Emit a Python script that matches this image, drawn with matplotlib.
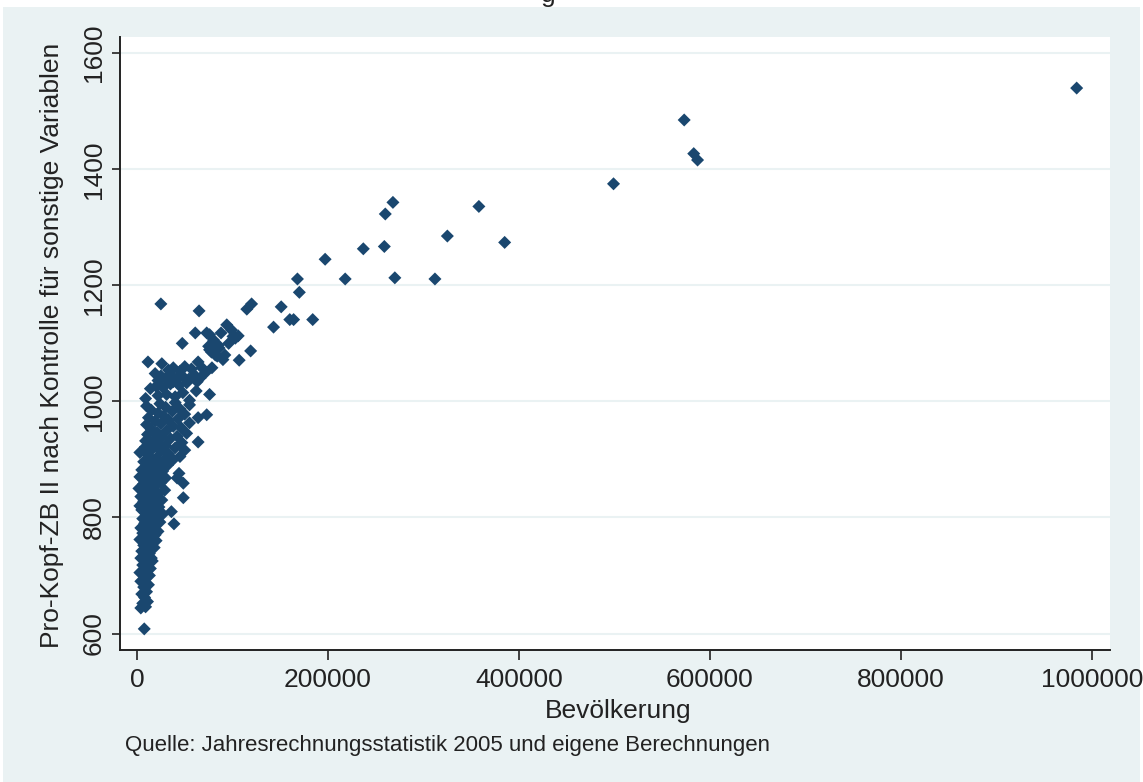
import matplotlib.pyplot as plt
from matplotlib.patches import Rectangle

# Bevölkerung (Einwohner) und Pro-Kopf-ZB II
pop = [
    7600, 4000, 9000, 6000, 11000, 8000, 5000, 10000, 7000, 12000, 4000, 9000, 13000,
    3000, 8000, 14000, 6000, 11000, 16000, 4000, 9000, 13000, 15000, 8000, 12000,
    5000, 10000, 18000, 7000, 14000, 20000, 3000, 11000, 16000, 6000, 22000, 9000,
    19000, 12000, 17000, 6000,
    4000, 13000, 19000, 8000, 24000, 38700, 15000, 6000, 21000, 11000, 27000, 17000,
    36000, 5000, 9000, 23000, 14000, 19000, 7000, 26000, 10000, 16000, 3000, 12000,
    12000, 48500, 4000, 17000, 22000, 9000, 29000, 14000, 6000, 20000, 25000, 48500,
    11000, 16000, 30000, 3000, 8000, 21000, 13000, 27000, 42000, 44000, 18000, 23000,
    7000, 15000, 24000, 2000,
    5000, 10000, 18000, 24000, 32000, 14000, 7000, 28000, 38000, 20000, 45000, 12000,
    33000, 3000, 25000, 50000, 16000, 40000, 9000, 30000, 22000, 47000, 13000,
    9000, 18000, 35000, 26000, 42000, 11000, 52000, 64000, 21000, 31000, 15000, 46000,
    38000, 10000, 25000, 55000, 19000, 33000, 43000, 12000, 64000, 28000, 73000, 50000,
    22000, 37000, 15000, 45000, 30000, 10000, 55000, 24000, 40000,
    14000, 20000, 27000, 31000, 40000, 48000, 55000, 62000, 76000, 35000, 44000, 9000,
    22000,
    11500, 26000, 38000, 50000, 64000, 78500, 19000, 25000, 30000, 36000, 42000, 48000,
    54000, 60000, 66000, 72000, 33000, 45000, 57000, 68000, 22000, 38000, 52000, 63000,
    94000, 99000, 103000, 61000, 73000, 47400, 80000, 76000, 92000, 85000, 82000,
    100500, 107000, 119000, 25000, 65000, 88000, 96000, 75000, 78000, 84000, 90000,
    86000, 76000, 106000,
    115000, 120000, 151000, 143000, 160000, 164000, 184000, 168000, 170000, 197000,
    218000, 237000, 259000, 260000, 268000, 270000, 312000, 325000, 358000, 385000,
    499000, 573000, 583000, 587000, 984000,
]
zb = [
    608, 644, 646, 652, 655, 662, 668, 672, 680, 684, 690, 695, 700,
    705, 708, 712, 718, 722, 725, 730, 733, 738, 730, 740, 750,
    742, 745, 748, 752, 755, 760, 762, 765, 770, 773, 776, 778,
    770, 790, 800, 760,
    782, 784, 786, 790, 792, 789, 795, 798, 800, 803, 806, 810,
    810, 813, 816, 818, 822, 826, 828, 830, 790, 800, 820, 812,
    833, 834, 836, 838, 842, 845, 847, 850, 853, 856, 860, 859,
    862, 865, 868, 870, 872, 875, 878, 880, 868, 876, 848, 868,
    858, 840, 885, 850,
    882, 884, 886, 888, 890, 893, 896, 898, 900, 902, 905, 907,
    910, 912, 914, 916, 918, 920, 922, 924, 927, 929, 930,
    932, 934, 936, 938, 940, 943, 945, 930, 947, 950, 952, 955,
    957, 960, 962, 963, 966, 968, 970, 972, 972, 975, 977, 978,
    980, 983, 985, 987, 990, 992, 994, 996, 998,
    1022, 1026, 1024, 1012, 1008, 1015, 1002, 1018, 1012, 1030, 1028, 1005,
    1010,
    1068, 1065, 1058, 1060, 1068, 1058, 1048, 1044, 1040, 1045, 1040, 1043,
    1038, 1046, 1040, 1050, 1054, 1052, 1056, 1058, 1036, 1034, 1032, 1034,
    1132, 1123, 1109, 1118, 1118, 1100, 1106, 1089, 1080, 1097, 1080,
    1112, 1071, 1087, 1168, 1156, 1118, 1100, 1095, 1085, 1078, 1072,
    1092, 1115, 1113,
    1159, 1168, 1163, 1128, 1141, 1141, 1141, 1211, 1188, 1245,
    1211, 1263, 1267, 1323, 1343, 1213, 1211, 1285, 1336, 1274,
    1375, 1485, 1427, 1416, 1540,
]

xticks = [0, 200000, 400000, 600000, 800000, 1000000]
yticks = [600, 800, 1000, 1200, 1400, 1600]

plt.rcParams['font.family'] = ['Liberation Sans', 'DejaVu Sans']

W, H = 1143, 782
fig = plt.figure(figsize=(W / 100, H / 100), dpi=100)
fig.patch.set_facecolor('white')
fig.patches.append(Rectangle((3 / W, 0), 1137 / W, 1 - 7 / H, transform=fig.transFigure,
                             facecolor='#EAF2F3', edgecolor='none', zorder=-10))

ax = fig.add_axes([120 / W, 1 - 650 / H, 990 / W, 613 / H])
ax.set_facecolor('white')
ax.scatter(pop, zb, marker='D', s=44, color='#1A476F', edgecolors='none', zorder=3)

ax.set_xlim(-17800, 1018900)
ax.set_ylim(571.6, 1628)
ax.set_xticks(xticks)
ax.set_xticklabels([str(v) for v in xticks])
ax.set_yticks(yticks)
ax.set_yticklabels([str(v) for v in yticks], rotation=90, va='center')

for v in yticks:
    ax.axhline(v, color='#EAF2F3', lw=1.5, zorder=1)

for s in ['top', 'right']:
    ax.spines[s].set_visible(False)
for s in ['left', 'bottom']:
    ax.spines[s].set_color('#222222')
    ax.spines[s].set_linewidth(1.4)

ax.tick_params(axis='x', length=7, width=1.2, pad=6, labelsize=19, colors='#222222')
ax.tick_params(axis='y', length=6, width=1.2, pad=4, labelsize=19, colors='#222222')

fig.text(52 / W, 1 - 345 / H, 'Pro-Kopf-ZB II nach Kontrolle für sonstige Variablen',
         rotation=90, ha='center', va='center', fontsize=19, color='#222222')
fig.text(618 / W, 1 - 711 / H, 'Bevölkerung', ha='center', va='center',
         fontsize=19, color='#222222')
fig.text(125 / W, 1 - 745 / H, 'Quelle: Jahresrechnungsstatistik 2005 und eigene Berechnungen',
         ha='left', va='center', fontsize=16, color='#222222')
# abgeschnittener Titel oben (im Original ebenfalls nur der Unterrand sichtbar)
fig.text(548 / W, 1 - 2 / H, 'g', ha='center', va='baseline', fontsize=19, color='#222222')

fig.savefig('out.png', dpi=100)
